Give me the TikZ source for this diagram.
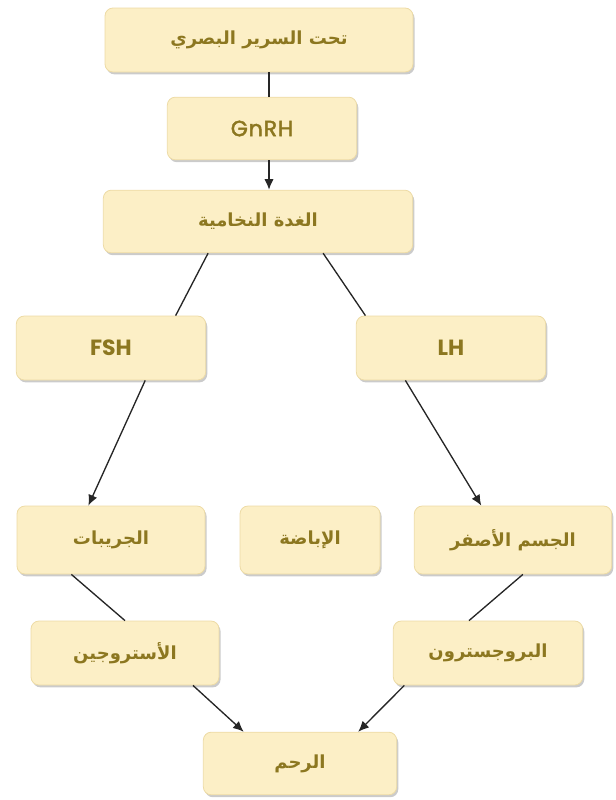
\documentclass[tikz,border=0pt]{standalone}
\usepackage{fontspec}
\setmainfont{Poppins}
\newfontfamily\arabicfont[Script=Arabic]{DejaVu Sans}
\TeXXeTstate=1
\usetikzlibrary{shadows,arrows.meta,calc}
\definecolor{boxfill}{HTML}{FCEFC6}
\definecolor{boxedge}{HTML}{EDDBA5}
\definecolor{txt}{HTML}{8C7720}
\tikzset{
  box/.style={draw=boxedge, line width=0.6pt, fill=boxfill, rounded corners=6pt,
    drop shadow={shadow xshift=1.2pt, shadow yshift=-1.8pt, fill=black!45, opacity=0.45},
    text=txt, inner sep=0pt, font=\bfseries\fontsize{16.5}{19}\selectfont},
  ar/.style={box, font=\arabicfont\bfseries\fontsize{13.5}{16}\selectfont},
  link/.style={line width=1pt, draw=black!85},
  arrow/.style={link, -{Latex[length=8pt,width=7pt]}}
}
\begin{document}
\begin{tikzpicture}[x=0.75pt,y=-0.75pt]
\useasboundingbox (0,0) rectangle (616,800);
% nodes
\node[ar, minimum width=231pt, minimum height=48pt] (hyp) at (259,40) {\beginR تحت السرير البصري\endR};
\node[box, font=\mdseries\fontsize{16.5}{19}\selectfont\addfontfeature{FakeBold=2,LetterSpace=4}, minimum width=142pt, minimum height=47pt] (gnrh) at (262,128.5) {GnRH};
\node[ar, minimum width=232pt, minimum height=47pt] (pit) at (258,221.5) {\beginR الغدة النخامية\endR};
\node[box, minimum width=142pt, minimum height=48pt] (fsh) at (111,348) {FSH};
\node[box, minimum width=142pt, minimum height=48pt] (lh) at (451,348) {LH};
\node[ar, minimum width=141pt, minimum height=51pt] (fol) at (111,540) {\beginR الجريبات\endR};
\node[ar, minimum width=105pt, minimum height=51pt] (ovu) at (310,540) {\beginR الإباضة\endR};
\node[ar, minimum width=148pt, minimum height=51pt] (cl) at (513,540) {\beginR الجسم الأصفر\endR};
\node[ar, minimum width=141pt, minimum height=48pt] (est) at (125,653) {\beginR الأستروجين\endR};
\node[ar, minimum width=142pt, minimum height=48pt] (pro) at (488,653) {\beginR البروجسترون\endR};
\node[ar, minimum width=145pt, minimum height=47pt] (ut) at (300,763.5) {\beginR الرحم\endR};
% connectors
\coordinate (cx) at (269,0);
\draw[link] (hyp.south -| cx) -- (gnrh.north -| cx);
\draw[arrow] (gnrh.south -| cx) -- (pit.north -| cx);
\draw[link] ($(pit.south west)!0.339!(pit.south east)$) -- ($(fsh.north west)!0.84!(fsh.north east)$);
\draw[link] ($(pit.south west)!0.71!(pit.south east)$) -- ($(lh.north west)!0.05!(lh.north east)$);
\draw[arrow] ($(fsh.south west)!0.68!(fsh.south east)$) -- ($(fol.north west)!0.38!(fol.north east)$);
\draw[arrow] ($(lh.south west)!0.26!(lh.south east)$) -- ($(cl.north west)!0.34!(cl.north east)$);
\draw[link] ($(fol.south west)!0.29!(fol.south east)$) -- ($(est.north west)!0.5!(est.north east)$);
\draw[link] ($(cl.south west)!0.55!(cl.south east)$) -- ($(pro.north west)!0.40!(pro.north east)$);
\draw[arrow] ($(est.south west)!0.86!(est.south east)$) -- ($(ut.north west)!0.21!(ut.north east)$);
\draw[arrow] ($(pro.south west)!0.06!(pro.south east)$) -- ($(ut.north west)!0.80!(ut.north east)$);
\end{tikzpicture}
\end{document}
